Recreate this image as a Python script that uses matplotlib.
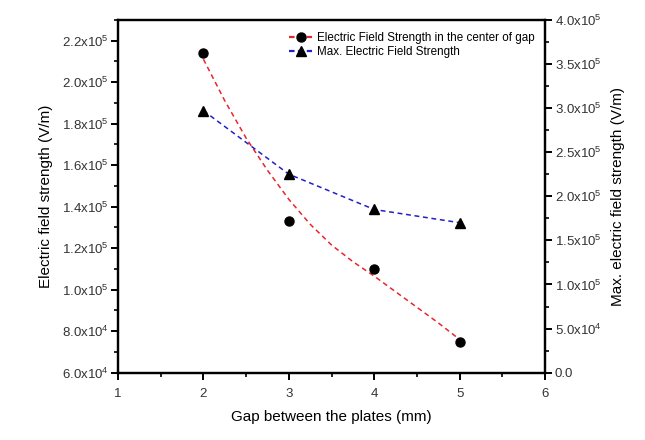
import matplotlib
matplotlib.use("Agg")
import matplotlib.pyplot as plt
from matplotlib.lines import Line2D
from matplotlib.ticker import FuncFormatter, MultipleLocator

# -------------------------------
# Data
# -------------------------------
gap_mm = [2, 3, 4, 5]
center_field = [2.139e5, 1.33e5, 1.10e5, 7.47e4]     # left axis, circles
max_field = [2.97e5, 2.25e5, 1.85e5, 1.70e5]         # right axis, triangles

# dashed trend line of the centre field
center_fit_x = [2.0, 2.25, 2.5, 2.75, 3.0, 3.25, 3.5, 3.75, 4.0, 4.25, 4.5, 4.75, 5.0]
center_fit_y = [2.11e5, 1.91e5, 1.73e5, 1.575e5, 1.435e5, 1.315e5, 1.215e5, 1.135e5,
                1.065e5, 0.99e5, 0.915e5, 0.84e5, 0.76e5]

legend_labels = ["Electric Field Strength in the center of gap",
                 "Max. Electric Field Strength"]

plt.rcParams["font.family"] = ["Liberation Sans", "DejaVu Sans"]
plt.rcParams["mathtext.default"] = "regular"


def sci_label(v, pos):
    if v == 0:
        return "0.0"
    exp = len(str(int(abs(v)))) - 1
    mant = v / 10 ** exp
    return "%.1fx10$^{%d}$" % (mant, exp)


fig = plt.figure(figsize=(6.45, 4.4), dpi=100)
ax = fig.add_axes([0.183, 0.153, 0.662, 0.802])
ax2 = ax.twinx()

red = "#e8262a"
blue = "#2020c8"

ax.plot(center_fit_x, center_fit_y, color=red, ls=(0, (3.2, 2.4)), lw=1.1)
ax.plot(gap_mm, center_field, ls="none", marker="o", ms=6.5, color="black")

ax2.plot(gap_mm, max_field, color=blue, ls=(0, (3.2, 2.4)), lw=1.1)
ax2.plot(gap_mm, max_field, ls="none", marker="^", ms=7, color="black")

ax.set_xlim(1, 6)
ax.set_ylim(6e4, 2.3e5)
ax2.set_ylim(0, 4e5)

ax.xaxis.set_major_locator(MultipleLocator(1))
ax.xaxis.set_minor_locator(MultipleLocator(0.5))
ax.yaxis.set_major_locator(MultipleLocator(2e4))
ax.yaxis.set_minor_locator(MultipleLocator(1e4))
ax2.yaxis.set_major_locator(MultipleLocator(5e4))
ax2.yaxis.set_minor_locator(MultipleLocator(2.5e4))
ax.yaxis.set_major_formatter(FuncFormatter(sci_label))
ax2.yaxis.set_major_formatter(FuncFormatter(sci_label))

for a in (ax, ax2):
    for s in a.spines.values():
        s.set_linewidth(1.6)
    a.tick_params(which="major", direction="out", length=5, width=1.4,
                  labelsize=9.5, labelcolor="#333333", pad=2)
    a.tick_params(which="minor", direction="out", length=3, width=1.2)
ax.tick_params(axis="x", which="major", pad=6)

ax.set_xlabel("Gap between the plates (mm)", fontsize=11, labelpad=7)
ax.set_ylabel("Electric field strength (V/m)", fontsize=11, labelpad=6)
ax2.set_ylabel("Max. electric field strength (V/m)", fontsize=11, labelpad=7)

handles = [
    Line2D([], [], color=red, ls=(0, (2.5, 1.5)), lw=1.6, marker="o",
           mfc="black", mec="black", ms=6.5),
    Line2D([], [], color=blue, ls=(0, (2.5, 1.5)), lw=1.6, marker="^",
           mfc="black", mec="black", ms=7),
]
ax.legend(handles, legend_labels, loc="upper right", bbox_to_anchor=(1.0, 0.995),
          frameon=False, fontsize=8.4, handlelength=2.0, handletextpad=0.4,
          labelspacing=0.2, borderaxespad=0.5)

plt.savefig("out.png", dpi=100)
plt.close()
